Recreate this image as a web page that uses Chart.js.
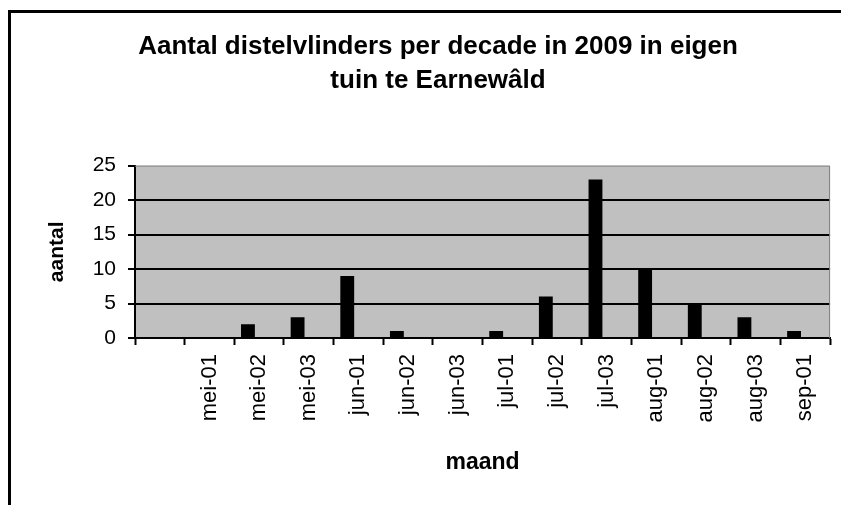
<!DOCTYPE html>
<html>
<head>
<meta charset="utf-8">
<script src="https://cdn.jsdelivr.net/npm/chart.js@4.4.0/dist/chart.umd.min.js"></script>
<style>
  html, body { margin: 0; padding: 0; background: #fff; }
  #wrap { width: 841px; height: 505px; }
</style>
</head>
<body>
<div id="wrap"><canvas id="vlinderChart" width="841" height="505"></canvas></div>
<script>
// decaden (eerste categorie is leeg, zoals in het origineel)
const decaden = ['', 'mei-01', 'mei-02', 'mei-03', 'jun-01', 'jun-02', 'jun-03',
  'jul-01', 'jul-02', 'jul-03', 'aug-01', 'aug-02', 'aug-03', 'sep-01'];
const aantallen = [0, 0, 2, 3, 9, 1, 0, 1, 6, 23, 10, 5, 3, 1];
const leeg = decaden.map(() => null); // tweede (lege) reeks uit Excel
const yTicks = [0, 5, 10, 15, 20, 25];

const font = 'Liberation Sans, Arial, sans-serif';

// grijze plotachtergrond en kader
const achtergrond = {
  id: 'achtergrond',
  beforeDraw(chart) {
    const { ctx, chartArea: a } = chart;
    ctx.save();
    ctx.fillStyle = '#c0c0c0';
    ctx.fillRect(a.left, a.top, a.right - a.left, a.bottom - a.top);
    ctx.restore();
  },
  afterDraw(chart) {
    const { ctx, chartArea: a } = chart;
    ctx.save();
    ctx.strokeStyle = '#808080';
    ctx.lineWidth = 1;
    ctx.beginPath();
    ctx.moveTo(a.left, a.top + 0.5);
    ctx.lineTo(a.right - 0.5, a.top + 0.5);
    ctx.lineTo(a.right - 0.5, a.bottom);
    ctx.stroke();
    // buitenrand van de grafiek
    ctx.strokeStyle = '#000';
    ctx.lineWidth = 3;
    ctx.strokeRect(9.5, 11.5, 900, 600);
    ctx.restore();
  }
};

const ctx = document.getElementById('vlinderChart').getContext('2d');
const chart = new Chart(ctx, {
  type: 'bar',
  data: {
    labels: decaden,
    datasets: [{
      label: 'aantal',
      data: aantallen,
      backgroundColor: '#000',
      categoryPercentage: 0.9,
      barPercentage: 0.62
    }, {
      label: '',
      data: leeg,
      backgroundColor: '#000',
      categoryPercentage: 0.9,
      barPercentage: 0.62
    }]
  },
  options: {
    responsive: false,
    animation: false,
    layout: { padding: { left: 45, right: 10, top: 0, bottom: 0 } },
    plugins: {
      legend: { display: false },
      tooltip: { enabled: false },
      title: {
        display: true,
        text: ['Aantal distelvlinders per decade in 2009 in eigen', 'tuin te Earnewâld'],
        color: '#000',
        font: { family: font, size: 26, weight: 'bold', lineHeight: 1.3 },
        padding: { top: 30, bottom: 68 }
      }
    },
    scales: {
      x: {
        afterFit: (s) => { s.height = 167; },
        grid: {
          offset: true,
          drawOnChartArea: false,
          tickLength: 7,
          tickColor: '#000',
          tickWidth: 2
        },
        border: { color: '#000', width: 2 },
        ticks: {
          color: '#000',
          font: { family: font, size: 22 },
          minRotation: 90,
          maxRotation: 90,
          padding: 9,
          autoSkip: false
        },
        title: {
          display: true,
          text: 'maand',
          color: '#000',
          font: { family: font, size: 23, weight: 'bold' },
          padding: { top: 0, bottom: 29 }
        }
      },
      y: {
        min: 0,
        max: 25,
        afterFit: (s) => { s.width = 90; },
        afterBuildTicks: (s) => { s.ticks = yTicks.map(v => ({ value: v })); },
        grid: {
          color: (c) => c.tick && c.tick.value === 25 ? 'rgba(0,0,0,0)' : '#000',
          lineWidth: 2,
          tickLength: 7,
          tickColor: '#000'
        },
        border: { color: '#000', width: 2 },
        ticks: {
          color: '#000',
          font: { family: font, size: 21 },
          padding: 12
        },
        title: {
          display: true,
          text: 'aantal',
          color: '#000',
          font: { family: font, size: 21, weight: 'bold' },
          padding: { top: 0, bottom: 0 }
        }
      }
    }
  },
  plugins: [achtergrond]
});
</script>
</body>
</html>
